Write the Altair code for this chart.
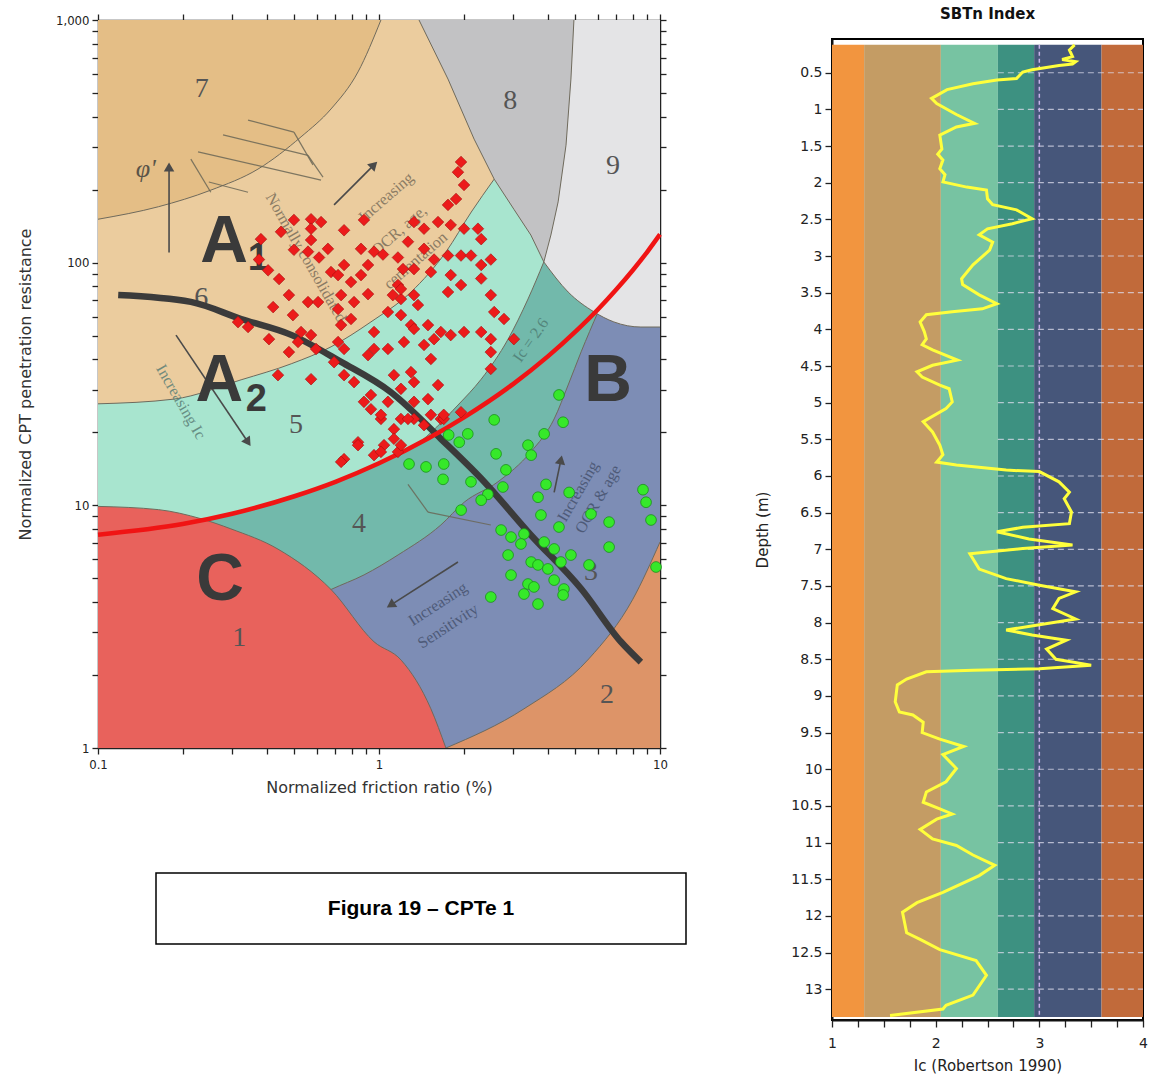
import altair as alt
import pandas as pd

# ===================== LEFT PANEL: normalized SBTn chart =====================
# zone boundaries (Fr in %, Qtn)
z2_fr = [1.73, 3.28, 5.58, 8.0, 10]
z2_q = [1, 1.45, 2.33, 4.1, 7.06]

z1_fr = [0.1, 0.164, 0.233, 0.297, 0.437, 0.675, 0.96, 1.2, 1.53, 1.73]
z1_q = [9.9, 9.6, 8.8, 8.0, 6.6, 4.5, 2.74, 2.3, 1.45, 1]

z4_fr = [0.1, 0.675, 0.885, 1.17, 1.66, 2.01, 2.65, 3.47, 4.2, 4.71, 5.24, 6.02]
z4_q = [1, 4.5, 5.17, 6.25, 8.3, 10.3, 12.5, 16.6, 22.7, 31.3, 42.9, 62.7]

z5_fr = [0.1, 0.2, 0.3, 0.5, 0.7, 1.0, 1.35, 1.91, 2.31, 2.88, 3.39, 3.86]
z5_q = [7.57, 8.37, 9.23, 10.9, 12.5, 14.9, 17.7, 25.9, 33.1, 48.4, 70.8, 100.7]

z9_fr = [3.86, 4.71, 5.82, 6.85, 8.55, 10]
z9_q = [100.7, 75.7, 62.7, 57.0, 54.3, 54.3]

z6_fr = [0.1, 0.1865, 0.323, 0.487, 0.675, 0.936, 1.30, 1.73, 2.13, 2.57]
z6_q = [26.2, 27.4, 32.9, 38.3, 45.0, 57.0, 75.7, 110.7, 161.7, 221]

z7_fr = [0.1, 0.164, 0.252, 0.371, 0.528, 0.675, 0.842, 1.016]
z7_q = [151, 170, 199, 243, 330, 430, 611, 1000]

z8_fr = [1.388, 1.76, 2.18, 2.57, 3.02, 3.47, 3.86, 4.09, 4.34, 4.63, 4.82, 4.94]
z8_q = [1000, 571, 323, 221, 166, 130, 100.7, 130, 178, 305, 571, 1000]

# Ic = 2.6 boundary (red) and the black trend line
ic26_fr = [0.1, 0.2, 0.3, 0.5, 0.7, 1, 1.5, 2, 3, 4, 5, 6, 7, 8, 9, 10]
ic26_q = [7.57, 8.37, 9.23, 10.9, 12.5, 14.9, 18.9, 23.0, 31.6, 41.2, 52.0, 64.0, 77.7, 93.1, 110.6, 130.8]

cd_fr = [0.118, 0.214, 0.323, 0.487, 0.733, 1.10, 1.66, 2.31, 3.47, 5.24, 7.26, 8.55]
cd_q = [73.6, 68.9, 58.6, 50.4, 39.0, 29.3, 18.8, 12.9, 7.55, 4.53, 2.74, 2.26]

# CPT data points
red_fr = [0.380, 0.448, 0.498, 0.573, 0.622, 0.573, 0.751, 0.884, 0.374, 0.403, 0.441, 0.498, 0.559, 0.573,
          0.658, 0.612, 0.478, 0.559, 0.607, 0.420, 0.494, 0.315, 0.342, 0.406, 0.478, 0.437, 0.573, 0.528,
          0.573, 0.597, 0.515, 0.675, 0.715, 0.751, 0.795, 0.863, 0.914, 0.96, 0.863, 1.033, 1.168, 1.217,
          1.268, 1.168, 1.12, 1.197, 1.076, 1.197, 1.30, 1.227, 1.30, 1.197, 1.076, 1.197, 1.016, 1.13,
          0.842, 0.751, 1.042, 0.96, 0.884, 0.815, 0.751, 0.936, 1.13, 0.96, 0.96, 0.914, 0.715, 0.751,
          0.692, 0.733, 0.795, 0.733, 0.715, 0.914, 0.815, 1.958, 1.91, 2.007, 1.88, 1.76, 1.332, 1.446,
          1.622, 1.80, 2.007, 2.25, 2.31, 1.446, 1.57, 1.76, 1.958, 2.125, 2.50, 2.31, 1.332, 1.53, 1.80,
          2.31, 1.332, 1.76, 1.958, 2.50, 1.376, 2.57, 2.785, 1.332, 1.494, 1.66, 1.80, 2.007, 2.31, 2.50,
          3.02, 1.446, 1.57, 2.50, 1.53, 2.50, 1.622, 1.332, 1.494, 1.332, 1.66, 1.332, 1.958, 1.70, 0.733,
          0.842, 0.936, 1.016, 1.016, 1.13, 1.268, 1.446, 1.53, 1.70, 1.168, 1.197, 1.076, 1.197]
red_q = [125, 134, 150, 151, 147, 138, 136, 150, 103, 93, 85.6, 113, 111, 124,
         114, 105, 73.5, 68.8, 68.8, 65.6, 60.8, 56.9, 54.3, 48.4, 42.8, 34.4, 33.1, 51.8,
         50.3, 44.1, 47.1, 91.5, 88.9, 97.8, 83.2, 88.9, 97.8, 111, 114, 108, 105, 94.1,
         122, 80.9, 73.5, 70.8, 62.6, 60.8, 55.3, 47.1, 35.4, 30.2, 26.7, 22.7, 22.7, 20.6,
         18.2, 15.5, 17.7, 16.1, 26.7, 32.2, 34.4, 28.5, 34.4, 44.1, 51.8, 41.6, 47.1, 44.1,
         38.9, 55.3, 58.6, 73.5, 64.4, 74.2, 68.8, 260, 236, 209, 183, 173, 147, 138,
         147, 143, 138, 138, 125, 114, 103, 107, 107, 107, 103, 97.8, 94.1, 91.5, 88.9,
         86, 73.5, 75.7, 80.9, 73.5, 66.9, 62.6, 58.6, 53.3, 55.3, 51.8, 50.3, 51.8, 51.8, 48.4,
         48.4, 45.8, 48.4, 42.8, 40.1, 36.5, 31.3, 32.2, 27.4, 26.7, 22.7, 22.7, 24.2, 22.7, 15.1,
         17.7, 24.9, 23.6, 16.6, 18.8, 22.7, 21.4, 23.6, 23.6, 16.6, 77.9, 44.1, 17.7]

green_fr = [2.57, 4.52, 3.87, 2.07, 1.93, 2.61, 3.39, 3.48, 2.83, 1.279, 1.47, 1.70, 1.69, 2.125, 2.44, 2.31,
            2.76, 3.93, 3.68, 4.75, 1.96, 3.77, 4.37, 5.68, 6.59, 8.70, 8.92, 9.29, 6.59, 2.72, 2.95, 3.28,
            3.20, 3.87, 4.20, 4.82, 5.59, 2.88, 3.48, 3.68, 3.99, 4.44, 2.95, 3.39, 3.56, 3.28, 4.20, 4.55,
            4.52, 3.68, 2.50, 9.68, 4.37, 1.77]
green_q = [22.5, 22.0, 19.7, 19.7, 18.2, 16.3, 17.7, 16.1, 14.0, 14.8, 14.4, 14.8, 12.8, 12.5, 11.1, 10.5,
           11.9, 12.2, 10.8, 11.3, 9.56, 9.12, 8.14, 9.21, 8.53, 11.6, 10.3, 8.70, 6.73, 7.91, 7.40, 7.62,
           6.93, 7.06, 6.61, 6.24, 5.68, 6.24, 5.84, 5.68, 5.47, 5.84, 5.16, 4.74, 4.61, 4.31, 4.92, 4.52,
           4.27, 3.92, 4.19, 5.57, 28.5, 19.5]

# labels on the chart
zone_txt = ['7', '8', '9', '6', '5', '4', '3', '2', '1']
zone_fr = [0.234, 2.93, 6.81, 0.233, 0.507, 0.849, 5.68, 6.48, 0.318]
zone_q = [519, 464, 250, 71.5, 21.4, 8.37, 5.31, 1.65, 2.84]

big_txt = ['A', 'A', 'B', 'C']
big_fr = [0.281, 0.27, 6.53, 0.272]
big_q = [121.6, 32.5, 32.5, 4.92]

sub_txt = ['1', '2']
sub_fr = [0.372, 0.366]
sub_q = [103.5, 27.2]

ann_txt = ['Increasing', 'OCR, age,', 'cementation', 'Normally consolidated', 'Increasing Ic',
           'Ic = 2.6', 'Increasing', 'Sensitivity', 'Increasing', 'OCR & age']
ann_fr = [1.06, 1.18, 1.35, 0.55, 0.197, 3.47, 1.62, 1.76, 5.11, 6.02]
ann_q = [186, 136, 102, 105, 26.7, 48, 3.92, 3.18, 11.4, 10.6]
ann_ang = [319, 319, 319, 60, 60, 305, 327, 327, 300, 300]
ann_col = ['#7a6e5a', '#7a6e5a', '#7a6e5a', '#7a6e5a', '#5b7f77', '#4f7d74', '#46526e', '#46526e',
           '#46526e', '#46526e']

phi_txt = ["φ'"]
phi_fr = [0.148]
phi_q = [243]

arr_fr0 = [0.179, 0.692, 0.1895, 1.91, 4.2]
arr_q0 = [110, 173, 50.3, 5.84, 11.3]
arr_fr1 = [0.179, 0.96, 0.342, 1.10, 4.44]
arr_q1 = [248, 253, 18.2, 3.88, 15.4]
arr_ang = [0, 45, 146, 237, 12]

hat_fr0 = [0.342, 0.2786, 0.227, 0.214, 0.248, 0.498, 0.559, 1.268, 1.494]
hat_q0 = [387, 336, 286, 267, 215, 345, 277, 12.2, 9.38]
hat_fr1 = [0.498, 0.559, 0.622, 0.252, 0.342, 0.582, 0.632, 1.494, 2.50]
hat_q1 = [345, 277, 219, 195, 195, 253, 225, 9.38, 8.3]

fr_ticks = [0.1, 0.2, 0.3, 0.4, 0.5, 0.6, 0.7, 0.8, 0.9, 1, 2, 3, 4, 5, 6, 7, 8, 9, 10]
q_ticks = [1, 2, 3, 4, 5, 6, 7, 8, 9, 10, 20, 30, 40, 50, 60, 70, 80, 90, 100,
           200, 300, 400, 500, 600, 700, 800, 900, 1000]

# ===================== RIGHT PANEL: SBTn index log =====================
band_name = ['7', '6', '5', '4', '3', '2']
band_lo = [1, 1.31, 2.05, 2.6, 2.95, 3.6]
band_hi = [1.31, 2.05, 2.6, 2.95, 3.6, 4]
band_col = ['#f2953f', '#c49c64', '#77c3a2', '#3d9181', '#46567a', '#c16a3a']
band_top = 0.12
band_bot = 13.38

depth_ticks = [0.5, 1, 1.5, 2, 2.5, 3, 3.5, 4, 4.5, 5, 5.5, 6, 6.5, 7, 7.5, 8, 8.5, 9, 9.5, 10,
               10.5, 11, 11.5, 12, 12.5, 13]
ic_ticks = [1, 1.25, 1.5, 1.75, 2, 2.25, 2.5, 2.75, 3, 3.25, 3.5, 3.75, 4]

ic_depth = [0.12, 0.19, 0.28, 0.32, 0.35, 0.38, 0.40, 0.46, 0.49, 0.58, 0.60, 0.65, 0.73, 0.85, 0.92,
            1.07, 1.19, 1.24, 1.35, 1.54, 1.61, 1.69, 1.81, 1.89, 1.99, 2.06, 2.10, 2.22, 2.30, 2.37,
            2.49, 2.56, 2.63, 2.71, 2.81, 2.92, 3.12, 3.31, 3.39, 3.53, 3.65, 3.72, 3.76, 3.80, 3.90,
            4.03, 4.13, 4.21, 4.28, 4.42, 4.49, 4.58, 4.65, 4.76, 4.81, 4.99, 5.08, 5.26, 5.40, 5.58,
            5.71, 5.81, 5.85, 5.92, 5.94, 6.08, 6.22, 6.31, 6.49, 6.65, 6.70, 6.76, 6.86, 6.94, 6.99,
            7.06, 7.27, 7.40, 7.49, 7.58, 7.67, 7.81, 7.95, 8.03, 8.10, 8.17, 8.24, 8.36, 8.50, 8.58,
            8.63, 8.65, 8.67, 8.77, 8.85, 9.08, 9.22, 9.26, 9.36, 9.50, 9.59, 9.69, 9.80, 9.99, 10.17,
            10.31, 10.45, 10.54, 10.61, 10.68, 10.82, 10.95, 11.04, 11.17, 11.31, 11.45, 11.68, 11.82,
            11.95, 12.23, 12.32, 12.46, 12.61, 12.81, 13.08, 13.22, 13.27, 13.36]
ic_value = [3.34, 3.29, 3.32, 3.22, 3.35, 3.32, 3.19, 2.93, 2.84, 2.78, 2.59, 2.36, 2.11, 1.96, 2.01,
            2.20, 2.375, 2.20, 2.04, 2.06, 2.02, 2.07, 2.04, 2.09, 2.07, 2.30, 2.49, 2.50, 2.55, 2.78,
            2.93, 2.74, 2.50, 2.42, 2.55, 2.52, 2.36, 2.25, 2.26, 2.42, 2.59, 2.45, 2.16, 1.91, 1.85,
            1.89, 1.91, 1.87, 1.97, 2.21, 1.97, 1.82, 1.87, 2.04, 2.13, 2.16, 2.10, 1.88, 1.97, 2.04,
            2.07, 2.01, 2.20, 2.68, 3.00, 3.19, 3.29, 3.24, 3.31, 3.29, 2.84, 2.59, 2.90, 3.32, 2.84,
            2.33, 2.42, 2.68, 3.00, 3.35, 3.19, 3.13, 3.35, 3.00, 2.68, 2.93, 3.26, 3.07, 3.16, 3.50,
            3.00, 2.36, 1.91, 1.72, 1.63, 1.61, 1.65, 1.78, 1.88, 1.87, 2.04, 2.27, 2.07, 2.20, 2.10,
            1.91, 1.88, 2.04, 2.16, 2.01, 1.85, 1.97, 2.20, 2.36, 2.57, 2.42, 2.07, 1.82,
            1.68, 1.72, 1.85, 2.04, 2.39, 2.49, 2.36, 2.10, 2.07, 1.56]

caption = ['Figura 19 \u2013 CPTe 1']

# ===================== styles =====================
SANS = 'DejaVu Sans'
SANS_C = 'DejaVu Sans Condensed, DejaVu Sans'
SERIF = 'Liberation Serif'
EDGE = '#6f6a5c'

xs = alt.Scale(type='log', domain=[0.1, 10], nice=False)
ys = alt.Scale(type='log', domain=[1, 1000], nice=False)


def ex(f):
    return alt.X(f, type='quantitative', scale=xs, axis=None)


def ey(f):
    return alt.Y(f, type='quantitative', scale=ys, axis=None)


tick_style = dict(domainColor='#222222', domainWidth=1.5, tickColor='#222222', tickWidth=1.3,
                  tickSize=6, grid=False)
label_style = dict(labelOverlap=False, labelFlush=False, labelFont=SANS_C, labelFontSize=13,
                   labelColor='#222222', titleFont=SANS, titleFontSize=16, titleFontWeight='normal',
                   titleColor='#333333')


def zone(fr, bnd, color, below, interp='monotone'):
    n = len(fr)
    if below:
        df = pd.DataFrame({'Fr': fr, 'lo': [1] * n, 'hi': bnd})
        edge_field = 'hi'
    else:
        df = pd.DataFrame({'Fr': fr, 'lo': bnd, 'hi': [1000] * n})
        edge_field = 'lo'
    area = alt.Chart(df).mark_area(color=color, interpolate=interp, orient='vertical', clip=True).encode(
        x=ex('Fr'), y=ey('lo'), y2='hi')
    edge = alt.Chart(df).mark_line(color=EDGE, strokeWidth=1, interpolate=interp, clip=True).encode(
        x=ex('Fr'), y=ey(edge_field))
    return area, edge


bg_df = pd.DataFrame({'x0': [0.1], 'x1': [10], 'y0': [1], 'y1': [1000]})
bg = alt.Chart(bg_df).mark_rect(color='#7d8db5').encode(
    x=alt.X('x0:Q', scale=xs, axis=alt.Axis(
        orient='bottom', values=fr_ticks, title='Normalized friction ratio (%)', titlePadding=8,
        labelExpr="datum.value == 0.1 ? '0.1' : datum.value == 1 ? '1' : datum.value == 10 ? '10' : ''",
        labelPadding=4, **tick_style, **label_style)),
    x2='x1',
    y=alt.Y('y0:Q', scale=ys, axis=alt.Axis(
        orient='left', values=q_ticks, title='Normalized CPT penetration resistance', titlePadding=22,
        labelExpr="datum.value == 1 ? '1' : datum.value == 10 ? '10' : datum.value == 100 ? '100' : datum.value == 1000 ? '1,000' : ''",
        labelPadding=3, **tick_style, **label_style)),
    y2='y1')

z2a, z2e = zone(z2_fr, z2_q, '#dd9468', True)
# top / right tick axes carried by the zone-2 layer
z2a = z2a.encode(
    x=alt.X('Fr:Q', scale=xs, axis=alt.Axis(orient='top', values=fr_ticks, labels=False, title=None,
                                            **tick_style)),
    y=alt.Y('lo:Q', scale=ys, axis=alt.Axis(orient='right', values=q_ticks, labels=False, title=None,
                                            **tick_style)))
z4a, z4e = zone(z4_fr, z4_q, '#72b9ab', False)
z5a, z5e = zone(z5_fr, z5_q, '#a8e5cf', False)
z9a, z9e = zone(z9_fr, z9_q, '#e4e4e6', False)
z6a, z6e = zone(z6_fr, z6_q, '#ebcc9e', False)
z7a, z7e = zone(z7_fr, z7_q, '#e4be86', False)
z8a, z8e = zone(z8_fr, z8_q, '#c2c2c4', False, interp='linear')
z1a, z1e = zone(z1_fr, z1_q, '#e8625c', True)

hatch = alt.Chart(pd.DataFrame({'a': hat_fr0, 'b': hat_q0, 'c': hat_fr1, 'd': hat_q1})).mark_rule(
    color='#6a6656', strokeWidth=1.2, opacity=0.85).encode(x=ex('a'), y=ey('b'), x2='c', y2='d')

arr_df = pd.DataFrame({'a': arr_fr0, 'b': arr_q0, 'c': arr_fr1, 'd': arr_q1, 'ang': arr_ang})
arr_line = alt.Chart(arr_df).mark_rule(color='#4a4a4a', strokeWidth=1.6).encode(
    x=ex('a'), y=ey('b'), x2='c', y2='d')
arr_head = alt.Chart(arr_df).mark_point(shape='triangle-up', filled=True, size=110, color='#4a4a4a',
                                        opacity=1).encode(
    x=ex('c'), y=ey('d'), angle=alt.Angle('ang:Q', scale=None))

ann = alt.Chart(pd.DataFrame({'t': ann_txt, 'Fr': ann_fr, 'Q': ann_q, 'ang': ann_ang, 'c': ann_col})).mark_text(
    font=SERIF, fontSize=16, opacity=0.85).encode(
    x=ex('Fr'), y=ey('Q'), text='t:N', angle=alt.Angle('ang:Q', scale=None), color=alt.Color('c:N', scale=None))

zone_lbl = alt.Chart(pd.DataFrame({'t': zone_txt, 'Fr': zone_fr, 'Q': zone_q})).mark_text(
    font=SERIF, fontSize=28, color='#555555').encode(x=ex('Fr'), y=ey('Q'), text='t:N')

phi = alt.Chart(pd.DataFrame({'t': phi_txt, 'Fr': phi_fr, 'Q': phi_q})).mark_text(
    font=SERIF, fontSize=26, fontStyle='italic', color='#5a5448').encode(x=ex('Fr'), y=ey('Q'), text='t:N')

cd_line = alt.Chart(pd.DataFrame({'Fr': cd_fr, 'Q': cd_q})).mark_line(
    color='#3b3b3b', strokeWidth=6.5, interpolate='monotone', strokeCap='butt').encode(x=ex('Fr'), y=ey('Q'))

ic_line = alt.Chart(pd.DataFrame({'Fr': ic26_fr, 'Q': ic26_q})).mark_line(
    color='#f01414', strokeWidth=4.5, interpolate='monotone').encode(x=ex('Fr'), y=ey('Q'))

big = alt.Chart(pd.DataFrame({'t': big_txt, 'Fr': big_fr, 'Q': big_q})).mark_text(
    font='Liberation Sans', fontWeight='bold', fontSize=66, color='#3a3a3a').encode(
    x=ex('Fr'), y=ey('Q'), text='t:N')
sub = alt.Chart(pd.DataFrame({'t': sub_txt, 'Fr': sub_fr, 'Q': sub_q})).mark_text(
    font='Liberation Sans', fontWeight='bold', fontSize=38, color='#3a3a3a').encode(
    x=ex('Fr'), y=ey('Q'), text='t:N')

red_pts = alt.Chart(pd.DataFrame({'Fr': red_fr, 'Q': red_q})).mark_point(
    shape='diamond', filled=True, size=135, color='#ec1b1b', stroke='#a30d0d', strokeWidth=0.6,
    opacity=1).encode(x=ex('Fr'), y=ey('Q'))
green_pts = alt.Chart(pd.DataFrame({'Fr': green_fr, 'Q': green_q})).mark_point(
    shape='circle', filled=True, size=115, color='#36e82a', stroke='#1b8f1b', strokeWidth=0.8,
    opacity=1).encode(x=ex('Fr'), y=ey('Q'))

left = alt.layer(
    bg, z2a, z2e, z4a, z4e, z5a, z5e, z9a, z9e, z6a, z6e, z7a, z7e, z8a, z8e, z1a, z1e,
    hatch, ann, zone_lbl, phi, arr_line, arr_head, cd_line, ic_line, big, sub, red_pts, green_pts
).resolve_axis(x='independent', y='independent').properties(width=562, height=728)

# caption box
cap = alt.Chart(pd.DataFrame({'t': caption})).mark_text(
    font='Liberation Sans', fontWeight='bold', fontSize=21, color='black').encode(text='t:N').properties(
    width=530, height=71, view=alt.ViewBackground(stroke='black', strokeWidth=1.5))
spacer_cap = alt.Chart(pd.DataFrame({'t': ['']})).mark_text().encode(text='t:N').properties(width=58, height=71)
cap_row = alt.hconcat(spacer_cap, cap, spacing=0, bounds='flush')
left_col = alt.vconcat(left, cap_row, spacing=125, bounds='flush')

# ===================== right chart =====================
xr = alt.Scale(domain=[1, 4], nice=False, zero=False)
yr = alt.Scale(domain=[0.04, 13.42], nice=False, zero=False, reverse=True)

r_axis = dict(domainColor='#111111', domainWidth=2, tickColor='#222222', tickWidth=1.3, tickSize=7,
              grid=False, labelOverlap=False, labelFlush=False, labelFont=SANS, labelFontSize=14,
              labelColor='#222222', titleFont=SANS, titleFontSize=15, titleFontWeight='normal',
              titleColor='#222222')

bands = alt.Chart(pd.DataFrame({'name': band_name, 'lo': band_lo, 'hi': band_hi,
                                'top': [band_top] * 6, 'bot': [band_bot] * 6})).mark_rect().encode(
    x=alt.X('lo:Q', scale=xr, axis=alt.Axis(orient='bottom', values=ic_ticks, title='Ic (Robertson 1990)',
                                            labelExpr="datum.value % 1 == 0 ? format(datum.value, 'd') : ''",
                                            labelPadding=9, titlePadding=8, **r_axis)),
    x2='hi',
    y=alt.Y('top:Q', scale=yr, axis=alt.Axis(orient='left', values=depth_ticks, format='~g', title='Depth (m)',
                                             labelPadding=3, titlePadding=20, **r_axis)),
    y2='bot',
    color=alt.Color('name:N', scale=alt.Scale(domain=band_name, range=band_col), legend=None))

grid_df = pd.DataFrame({'d': depth_ticks, 'x0': [2.6] * len(depth_ticks), 'x1': [4] * len(depth_ticks)})
hgrid = alt.Chart(grid_df).mark_rule(color='#dcdcec', strokeWidth=1.2, strokeDash=[6, 4], opacity=0.75).encode(
    y=alt.Y('d:Q', scale=yr, axis=None), x=alt.X('x0:Q', scale=xr, axis=None), x2='x1')
vgrid = alt.Chart(pd.DataFrame({'ic': [3], 'd0': [band_top], 'd1': [band_bot]})).mark_rule(
    color='#c9b3ea', strokeWidth=1.5, strokeDash=[4, 3]).encode(
    x=alt.X('ic:Q', scale=xr, axis=None), y=alt.Y('d0:Q', scale=yr, axis=None), y2='d1')
ic_curve = alt.Chart(pd.DataFrame({'Ic': ic_value, 'depth': ic_depth})).mark_line(
    color='#ffff3c', strokeWidth=3).encode(
    x=alt.X('Ic:Q', scale=xr, axis=None), y=alt.Y('depth:Q', scale=yr, axis=None), order='depth:Q')

right = alt.layer(bands, hgrid, vgrid, ic_curve).resolve_axis(x='independent', y='independent').properties(
    width=311, height=981,
    title=alt.TitleParams('SBTn Index', font=SANS, fontSize=15, fontWeight='bold', color='#111111',
                          anchor='middle', offset=17),
    view=alt.ViewBackground(stroke='black', strokeWidth=2))
spacer_top = alt.Chart(pd.DataFrame({'t': ['']})).mark_text().encode(text='t:N').properties(width=311, height=19)
right_col = alt.vconcat(spacer_top, right, spacing=0, bounds='flush')

chart = alt.hconcat(left_col, right_col, spacing=67).properties(
    padding={'left': 17, 'top': 5, 'right': 2, 'bottom': 2}, background='white'
).configure_view(stroke='transparent')

chart.save('out.html', embed_options={'renderer': 'svg', 'actions': False})
